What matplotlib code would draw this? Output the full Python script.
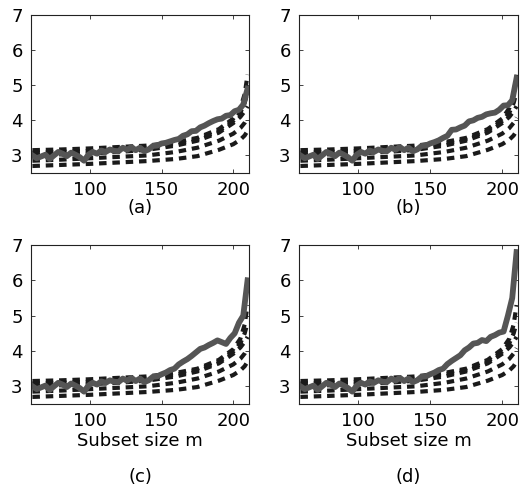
import matplotlib
matplotlib.use("Agg")
import matplotlib.pyplot as plt

plt.rcParams['font.family'] = ['DejaVu Sans']

# subset sizes for the observed curves
m = list(range(60, 211, 3))

base = [3.0, 2.92, 2.97, 3.02, 2.9, 3.0, 3.1, 3.05, 2.98, 3.08, 3.02, 2.95, 2.85, 3.02,
        3.1, 3.05, 3.14, 3.1, 3.17, 3.13, 3.12, 3.22, 3.16, 3.24, 3.15, 3.22, 3.12,
        3.17, 3.27, 3.28, 3.34]

obs_a = base + [3.36, 3.4, 3.44, 3.47, 3.56, 3.6, 3.69, 3.7, 3.8, 3.85, 3.92, 3.98,
                4.03, 4.05, 4.13, 4.15, 4.26, 4.3, 4.45, 4.9]
obs_b = base + [3.38, 3.43, 3.5, 3.56, 3.73, 3.74, 3.8, 3.85, 3.97, 4.0, 4.07, 4.1,
                4.17, 4.2, 4.22, 4.3, 4.42, 4.43, 4.57, 5.2]
obs_c = base + [3.39, 3.46, 3.5, 3.62, 3.7, 3.77, 3.86, 3.96, 4.06, 4.1, 4.17, 4.23,
                4.3, 4.25, 4.2, 4.37, 4.5, 4.8, 5.0, 6.0]
obs_d = base + [3.39, 3.46, 3.5, 3.63, 3.72, 3.8, 3.88, 4.02, 4.1, 4.21, 4.23, 4.31,
                4.28, 4.4, 4.45, 4.52, 4.55, 5.0, 5.5, 6.8]

# simulation envelopes
m_env = [60, 80, 100, 120, 140, 160, 175, 190, 200, 205, 208, 210]
env1 = [2.7, 2.73, 2.76, 2.8, 2.84, 2.9, 2.98, 3.16, 3.32, 3.45, 3.57, 3.7]
env2 = [2.85, 2.88, 2.92, 2.96, 3.0, 3.1, 3.22, 3.42, 3.62, 3.78, 3.93, 4.08]
env3 = [3.0, 3.03, 3.06, 3.1, 3.16, 3.28, 3.42, 3.65, 3.92, 4.1, 4.26, 4.4]
env4 = [3.08, 3.1, 3.13, 3.17, 3.22, 3.33, 3.46, 3.7, 3.98, 4.22, 4.5, 4.8]
env5 = [3.15, 3.17, 3.2, 3.24, 3.28, 3.38, 3.5, 3.75, 4.05, 4.35, 4.75, 5.3]

panel_labels = ['(a)', '(b)', '(c)', '(d)']
xticks = [100, 150, 200]
yticks = [3, 4, 5, 6, 7]
xlabel = 'Subset size m'

W, H = 521, 488
fig = plt.figure(figsize=(W / 100, H / 100), dpi=100)

boxes = [(31, 15, 249, 173), (299, 15, 518, 173), (31, 245, 249, 404), (299, 245, 518, 404)]
series = [obs_a, obs_b, obs_c, obs_d]

for i, (box, obs, lab) in enumerate(zip(boxes, series, panel_labels)):
    x0, y0, x1, y1 = box
    ax = fig.add_axes([x0 / W, 1 - y1 / H, (x1 - x0) / W, (y1 - y0) / H])
    for env in (env1, env2, env3, env4, env5):
        ax.plot(m_env, env, color='#1a1a1a', lw=3.0, linestyle=(0, (1.8, 1.4)),
                dash_capstyle='butt', solid_joinstyle='miter')
    ax.plot(m, obs, color='#555555', lw=4.2, solid_joinstyle='round')
    ax.set_xlim(59, 211)
    ax.set_ylim(2.5, 7)
    ax.set_xticks(xticks)
    ax.set_yticks(yticks)
    ax.tick_params(direction='in', length=3, width=0.6, labelsize=13, pad=6,
                   top=True, right=True, colors='#222222', labelcolor='black')
    for s in ax.spines.values():
        s.set_linewidth(0.8)
        s.set_color('#222222')
    cx = (x0 + x1) / 2 / W
    if i >= 2:
        ax.set_xlabel(xlabel, fontsize=13, labelpad=1)
        fig.text(cx, 1 - 477 / H, lab, ha='center', va='center', fontsize=13)
    else:
        fig.text(cx, 1 - 208 / H, lab, ha='center', va='center', fontsize=13)

fig.savefig('out.png', dpi=100)
